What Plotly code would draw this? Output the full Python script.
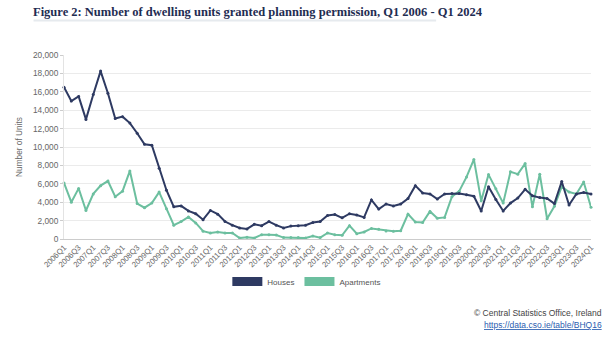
import plotly.graph_objects as go

quarters = [f"{y}Q{q}" for y in range(2006, 2024) for q in range(1, 5)] + ["2024Q1"]

houses = [16500, 15000, 15500, 13000, 15700, 18250, 15850, 13100, 13300, 12600,
          11500, 10300, 10200, 7700, 5300, 3500, 3600, 3050, 2750, 2100,
          3100, 2700, 1900, 1500, 1200, 1100, 1600, 1450, 1900, 1500,
          1200, 1400, 1450, 1500, 1800, 1900, 2550, 2650, 2300, 2750,
          2600, 2350, 4250, 3250, 3800, 3600, 3800, 4400, 5800, 5000,
          4900, 4350, 4900, 4950, 4950, 4800, 4650, 3050, 5680, 4300,
          3050, 3900, 4450, 5400, 4700, 4500, 4400, 3850, 6250, 3700,
          4900, 5050, 4900]

apartments = [6100, 4000, 5500, 3100, 4900, 5800, 6300, 4600, 5200, 7400,
              3850, 3400, 3900, 5100, 3300, 1500, 1900, 2400, 1750, 850,
              650, 760, 650, 650, 100, 200, 100, 470, 470, 440,
              150, 150, 150, 100, 330, 150, 650, 470, 400, 1450,
              580, 760, 1150, 1050, 870, 840, 900, 2700, 1850, 1800,
              3000, 2250, 2350, 4600, 5200, 6750, 8650, 4150, 7000, 5450,
              3900, 7300, 7050, 8200, 3500, 7050, 2200, 3550, 5700, 5100,
              4900, 6200, 3450]

tick_labels = quarters[::2]

house_color = "#2e3a62"
apt_color = "#6cbf9f"

fig = go.Figure()
fig.add_trace(go.Scatter(x=quarters, y=apartments, mode="lines+markers",
                         line=dict(color=apt_color, width=2),
                         marker=dict(size=3, color=apt_color),
                         showlegend=False, cliponaxis=False))
fig.add_trace(go.Scatter(x=quarters, y=houses, mode="lines+markers",
                         line=dict(color=house_color, width=2),
                         marker=dict(size=3, color=house_color),
                         showlegend=False, cliponaxis=False))
# legend entries
fig.add_trace(go.Scatter(x=[None], y=[None], mode="lines", name="Houses",
                         line=dict(color=house_color, width=9)))
fig.add_trace(go.Scatter(x=[None], y=[None], mode="lines", name="Apartments",
                         line=dict(color=apt_color, width=9)))

L, R, T, B = 63.5, 23, 55.3, 102.3
W, H = 614, 341
pw = W - L - R
ph = H - T - B

def px_x(x):
    return (x - L) / pw

def px_y(y):
    return (H - B - y) / ph

fig.update_layout(
    width=W, height=H,
    margin=dict(l=L, r=R, t=T, b=B, pad=0),
    paper_bgcolor="white", plot_bgcolor="white",
    font=dict(family="Liberation Sans, Arial, sans-serif", size=8, color="#666666"),
    title=dict(text="<b>Figure 2: Number of dwelling units granted planning permission, Q1 2006 - Q1 2024</b>",
               font=dict(family="Liberation Serif, serif", size=12.5, color="#1f2d52"),
               x=33 / W, xanchor="left", y=1 - 12 / H, yanchor="middle"),
    xaxis=dict(type="category", categoryorder="array", categoryarray=quarters,
               tickvals=tick_labels, ticktext=tick_labels, tickangle=-45,
               showgrid=False, showline=True, linecolor="#cccccc", linewidth=1,
               ticks="", range=[0, 72], tickfont=dict(size=7.8, color="#666666"),
               automargin=False),
    yaxis=dict(range=[0, 20000], dtick=2000, tickformat=",",
               showgrid=True, gridcolor="#ebebeb", gridwidth=1,
               showline=True, linecolor="#e3e3e3", linewidth=1,
               ticks="outside", ticklen=3, tickcolor="#cccccc",
               zeroline=False, automargin=False,
               tickfont=dict(size=8.3, color="#666666"),
               title=dict(text="Number of Units", font=dict(size=8.3, color="#666666"), standoff=9)),
    legend=dict(orientation="h", x=px_x(227), xanchor="left", y=px_y(281), yanchor="middle",
                font=dict(size=8, color="#555555"), itemwidth=30, bgcolor="rgba(0,0,0,0)"),
    shapes=[dict(type="line", xref="paper", yref="paper",
                 x0=px_x(33), x1=px_x(436), y0=px_y(21), y1=px_y(21),
                 line=dict(color="#e6eaee", width=2))],
    annotations=[
        dict(text="© Central Statistics Office, Ireland", xref="paper", yref="paper",
             x=px_x(604), y=px_y(312), xanchor="right", yanchor="middle", showarrow=False,
             font=dict(size=8.5, color="#444444")),
        dict(text="<a href='https://data.cso.ie/table/BHQ16' style='color:#2a5db0'><u>https://data.cso.ie/table/BHQ16</u></a>",
             xref="paper", yref="paper",
             x=px_x(604), y=px_y(324), xanchor="right", yanchor="middle", showarrow=False,
             font=dict(size=8.5, color="#2a5db0")),
    ],
)

fig.write_html("out.html")
